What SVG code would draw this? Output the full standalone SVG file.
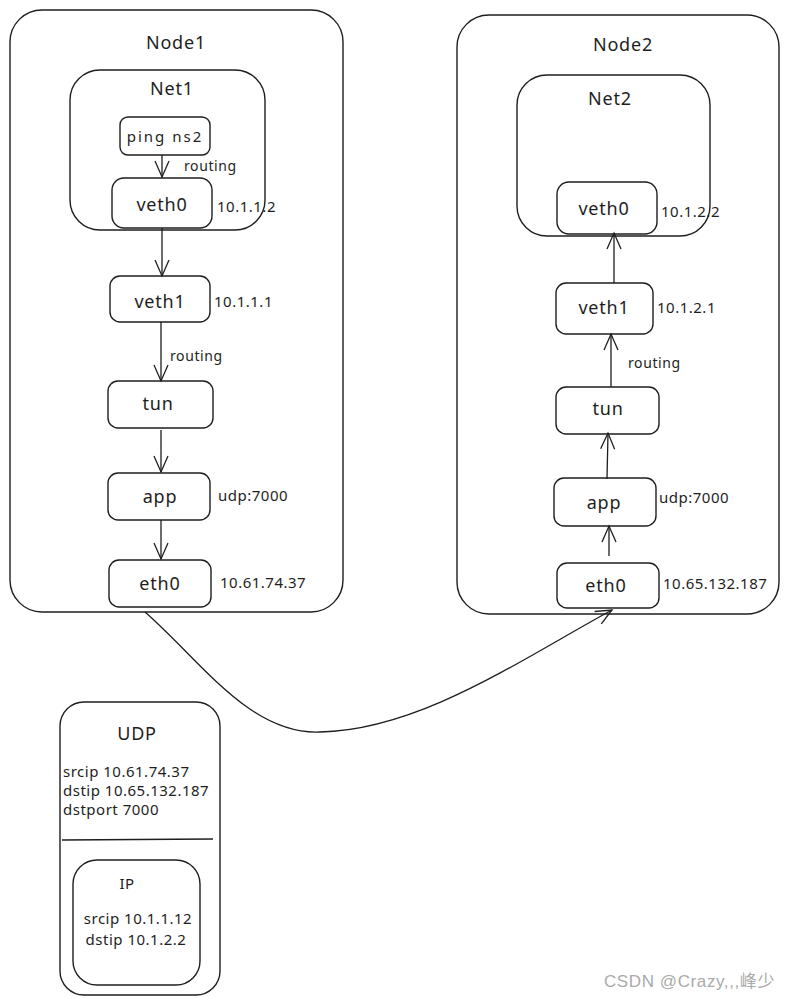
<svg xmlns="http://www.w3.org/2000/svg" width="789" height="1006" viewBox="0 0 789 1006">
<defs>
<marker id="arr" viewBox="0 0 20 20" refX="18" refY="10" markerWidth="20" markerHeight="20" markerUnits="userSpaceOnUse" orient="auto">
<path d="M2,3 L18,10 L2,17" fill="none" stroke="#1e1e1e" stroke-width="1.3"/>
</marker>
<style>
.box{fill:#fff;stroke:#1e1e1e;stroke-width:1.4}
.grp{fill:none;stroke:#1e1e1e;stroke-width:1.4}
.t{font-family:"Noto Sans","Liberation Sans",sans-serif;fill:#1e1e1e;text-anchor:middle;dominant-baseline:central}
.big{font-size:18px;letter-spacing:0.8px}
.lbl{font-size:15px;letter-spacing:0.5px}
.sm{font-size:14px;letter-spacing:0.6px}
.l{text-anchor:start}
.c{fill:none;stroke:#1e1e1e;stroke-width:1.3;marker-end:url(#arr)}
</style>
</defs>
<rect width="789" height="1006" fill="#fff"/>

<g id="node1">
<rect class="grp" x="10" y="10" width="333" height="602" rx="32"/>
<text class="t big" x="176" y="42">Node1</text>
</g>
<g id="net1">
<rect class="grp" x="70" y="70" width="195" height="160" rx="30"/>
<text class="t big" x="172" y="88">Net1</text>
</g>
<g id="node2">
<rect class="grp" x="457" y="15" width="322" height="599" rx="32"/>
<text class="t big" x="623" y="44">Node2</text>
</g>
<g id="net2">
<rect class="grp" x="517" y="75" width="193" height="161" rx="30"/>
<text class="t big" x="610" y="98">Net2</text>
</g>

<g id="ping">
<rect class="box" x="120" y="117" width="90" height="38" rx="8"/>
<text class="t" x="165" y="136" style="font-size:15px;letter-spacing:2px">ping ns2</text>
</g>
<g id="n1-veth0">
<rect class="box" x="112" y="178" width="100" height="50" rx="12"/>
<text class="t big" x="162" y="204">veth0</text>
<text class="t lbl l" x="217" y="206">10.1.1.2</text>
</g>
<g id="n1-veth1">
<rect class="box" x="110" y="276" width="100" height="46" rx="10"/>
<text class="t big" x="160" y="301">veth1</text>
<text class="t lbl l" x="214" y="301">10.1.1.1</text>
</g>
<g id="n1-tun">
<rect class="box" x="108" y="381" width="105" height="47" rx="10"/>
<text class="t big" x="158" y="403">tun</text>
</g>
<g id="n1-app">
<rect class="box" x="108" y="473" width="102" height="47" rx="10"/>
<text class="t big" x="160" y="496">app</text>
<text class="t lbl l" x="218" y="495">udp:7000</text>
</g>
<g id="n1-eth0">
<rect class="box" x="109" y="560" width="102" height="47" rx="10"/>
<text class="t big" x="160" y="583">eth0</text>
<text class="t lbl l" x="220" y="582">10.61.74.37</text>
</g>

<g id="n2-veth0">
<rect class="box" x="557" y="182" width="100" height="52" rx="12"/>
<text class="t big" x="604" y="208">veth0</text>
<text class="t lbl l" x="661" y="211">10.1.2.2</text>
</g>
<g id="n2-veth1">
<rect class="box" x="556" y="283" width="97" height="51" rx="10"/>
<text class="t big" x="604" y="307">veth1</text>
<text class="t lbl l" x="657" y="307">10.1.2.1</text>
</g>
<g id="n2-tun">
<rect class="box" x="556" y="387" width="103" height="47" rx="10"/>
<text class="t big" x="608" y="408">tun</text>
</g>
<g id="n2-app">
<rect class="box" x="554" y="478" width="102" height="48" rx="10"/>
<text class="t big" x="604" y="502">app</text>
<text class="t lbl l" x="659" y="497">udp:7000</text>
</g>
<g id="n2-eth0">
<rect class="box" x="557" y="563" width="102" height="45" rx="10"/>
<text class="t big" x="606" y="585">eth0</text>
<text class="t lbl l" x="663" y="583">10.65.132.187</text>
</g>

<g id="udp">
<rect class="grp" x="60" y="702" width="160" height="293" rx="24"/>
<text class="t big" x="137" y="733">UDP</text>
<text class="t lbl l" x="63" y="771">srcip 10.61.74.37</text>
<text class="t lbl l" x="63" y="790">dstip 10.65.132.187</text>
<text class="t lbl l" x="63" y="809">dstport 7000</text>
<line x1="62" y1="840" x2="213" y2="839" stroke="#1e1e1e" stroke-width="1.4"/>
</g>
<g id="ip">
<rect class="grp" x="73" y="860" width="127" height="125" rx="24"/>
<text class="t lbl" x="127" y="883">IP</text>
<text class="t lbl" x="138" y="918">srcip 10.1.1.12</text>
<text class="t lbl" x="136" y="939">dstip 10.1.2.2</text>
</g>

<g id="connectors">
<line class="c" x1="162" y1="155" x2="162" y2="177"/>
<line class="c" x1="162" y1="228" x2="162" y2="276"/>
<line class="c" x1="161" y1="322" x2="161" y2="381"/>
<line class="c" x1="161" y1="430" x2="161" y2="472"/>
<line class="c" x1="161" y1="520" x2="161" y2="559"/>
<line class="c" x1="614" y1="283" x2="614" y2="233"/>
<line class="c" x1="611" y1="387" x2="611" y2="334"/>
<line class="c" x1="607" y1="479" x2="608" y2="433"/>
<line class="c" x1="609" y1="556" x2="609" y2="526"/>
<path class="c" d="M145,612 C200,660 250,735 320,732 C420,730 520,660 612,610"/>
<text class="t sm l" x="184" y="165">routing</text>
<text class="t sm l" x="170" y="355">routing</text>
<text class="t sm l" x="628" y="362">routing</text>
</g>

<text x="775" y="987" font-family="'Liberation Sans','Noto Sans CJK SC',sans-serif" font-size="17" letter-spacing="0.6" fill="#aaaaaa" text-anchor="end">CSDN @Crazy,,,峰少</text>
</svg>
